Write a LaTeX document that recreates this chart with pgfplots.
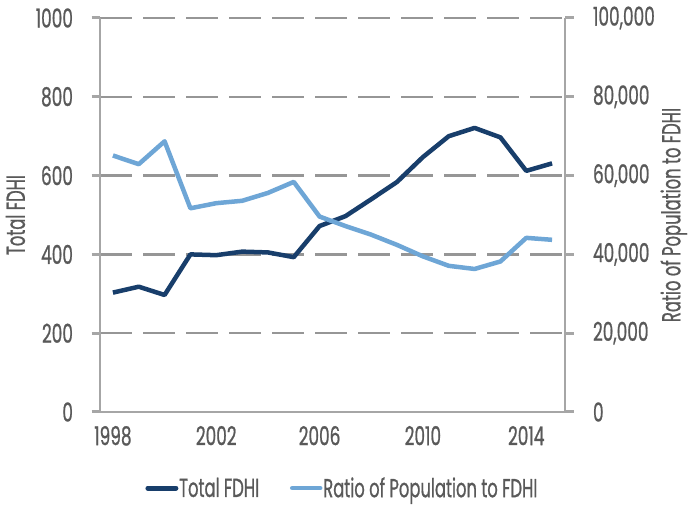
\documentclass[border=0pt]{standalone}
\usepackage{fontspec}
\setmainfont{Poppins}[FakeStretch=0.63, FakeBold=0.8]
\newfontfamily\tickfont{Poppins}[FakeStretch=0.65, FakeBold=0.8]
\usepackage{pgfplots}
\usepackage{pgfplotstable}
\pgfplotsset{compat=1.18}
\definecolor{dark}{RGB}{24,62,107}
\definecolor{light}{RGB}{110,166,214}
\definecolor{axgray}{RGB}{166,166,166}
\definecolor{gridgray}{RGB}{150,150,150}
\definecolor{txt}{RGB}{89,89,89}

\pgfplotstableread{
year fdhi ratio
1998 303 65100
1999 318 62900
2000 297 68700
2001 400 51700
2002 398 53000
2003 407 53600
2004 405 55600
2005 393 58400
2006 472 49600
2007 497 47200
2008 540 45000
2009 584 42400
2010 647 39500
2011 700 37100
2012 721 36300
2013 697 38200
2014 612 44200
2015 631 43700
}\data

\begin{document}
\begin{tikzpicture}
\useasboundingbox (0,0) rectangle (688pt,505pt);
\pgfplotsset{
 common/.style={
  at={(100pt,93pt)}, anchor=south west, scale only axis,
  width=465pt, height=394pt,
  xmin=1997.5, xmax=2015.5, ymin=0,
  font=\fontsize{26}{28}\selectfont,
  every tick label/.append style={text=txt, font=\fontsize{26}{28}\tickfont},
  /pgf/number format/assume math mode=true,
  tick align=outside,
  major tick length=8.5pt,
  tick style={axgray, line width=3pt},
  axis line style={axgray, line width=2.3pt},
 }
}
\begin{axis}[common,
  ymax=1000,
  axis x line*=bottom, axis y line*=left,
  xtick={1998,2002,2006,2010,2014},
  xticklabels={1998,2002,2006,2010,2014},
  x tick label style={yshift=-2pt},
  yticklabel style={/pgf/number format/1000 sep={}, xshift=-15pt},
  major x tick style={draw=none},
  extra x ticks={1997.5,2001.5,2005.5,2009.5,2013.5},
  extra x tick labels={},
  extra x tick style={major tick length=8.5pt, tick style={axgray, line width=3pt}},
  ytick={0,200,...,1000},
  ymajorgrids,
  major grid style={gridgray, line width=2.5pt, dash pattern=on 32pt off 11pt},
  ylabel={Total FDHI},
  ylabel style={at={(axis description cs:-0.182,0.5)}, anchor=center, text=txt},
]
\addplot[dark, line width=4.5pt, line join=round] table[x=year,y=fdhi]{\data};
\end{axis}
\begin{axis}[common,
  ymax=100000,
  axis y line*=right, axis x line=none,
  ytick={0,20000,...,100000},
  scaled y ticks=false,
  yticklabel style={/pgf/number format/.cd, fixed, 1000 sep={,}, /tikz/.cd, xshift=16pt},
  ylabel={Ratio of Population to FDHI},
  ylabel style={at={(axis description cs:1.234,0.5)}, anchor=center, text=txt},
  legend style={at={(0.52,-0.193)}, anchor=center, draw=none, fill=none,
    legend columns=2, text=txt,
    /tikz/every even column/.append style={column sep=30pt},
    nodes={inner sep=0.8pt}},
  legend image code/.code={\draw[#1, line cap=round] (0pt,0pt) -- (28pt,0pt);},
]
\addlegendimage{dark, line width=5pt}
\addlegendentry{Total FDHI}
\addplot[light, line width=4.5pt, line join=round] table[x=year,y=ratio]{\data};
\addlegendentry{Ratio of Population to FDHI}
\end{axis}
\end{tikzpicture}
\end{document}
